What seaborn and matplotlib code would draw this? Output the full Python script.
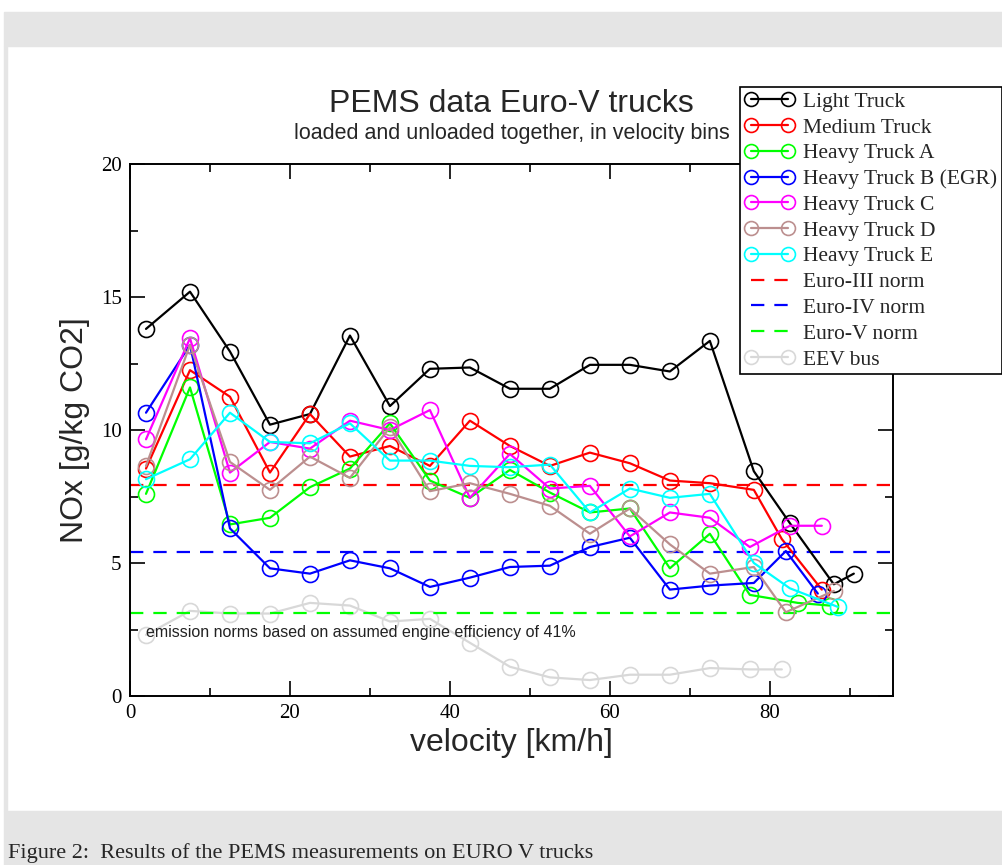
import numpy as np
import pandas as pd
import matplotlib
matplotlib.use('Agg')
import matplotlib.pyplot as plt
import seaborn as sns
from matplotlib.patches import Rectangle
from matplotlib.lines import Line2D
from matplotlib.ticker import MultipleLocator

# velocity bin centres [km/h]
bins = [2, 7.5, 12.5, 17.5, 22.5, 27.5, 32.5, 37.5, 42.5, 47.5, 52.5,
        57.5, 62.5, 67.5, 72.5, 78, 82.5, 87.5]

light_x = bins[:17] + [88, 90.5]
light = [13.8, 15.2, 12.95, 10.2, 10.6, 13.55, 10.9, 12.3, 12.35, 11.55, 11.55,
         12.45, 12.45, 12.2, 13.35, 8.45, 6.5, 4.2, 4.6]

medium_x = bins[:16] + [81.5, 86.5]
medium = [8.55, 12.25, 11.25, 8.4, 10.6, 9.0, 9.4, 8.65, 10.35, 9.4, 8.65,
          9.15, 8.75, 8.1, 8.0, 7.75, 5.9, 4.0]

heavy_a_x = bins[:15] + [77.5, 83.5, 87.5]
heavy_a = [7.6, 11.6, 6.45, 6.7, 7.85, 8.55, 10.25, 8.1, 7.45, 8.5, 7.65,
           6.9, 7.05, 4.8, 6.1, 3.8, 3.5, 3.4]

heavy_b_x = bins[:15] + [78, 82, 86]
heavy_b = [10.65, 13.2, 6.3, 4.8, 4.6, 5.1, 4.8, 4.1, 4.45, 4.85, 4.9,
           5.6, 5.95, 4.0, 4.15, 4.25, 5.45, 3.85]

heavy_c_x = bins[:15] + [77.5, 82.5, 86.5]
heavy_c = [9.65, 13.45, 8.4, 9.55, 9.3, 10.35, 10.0, 10.75, 7.45, 9.1, 7.8,
           7.9, 6.0, 6.9, 6.7, 5.6, 6.4, 6.4]

heavy_d_x = bins[:16] + [82, 88]
heavy_d = [8.65, 13.2, 8.8, 7.75, 9.0, 8.2, 10.1, 7.7, 8.0, 7.6, 7.15,
           6.1, 7.05, 5.7, 4.6, 4.85, 3.15, 3.95]

heavy_e_x = bins[:16] + [82.5, 88.5]
heavy_e = [8.15, 8.9, 10.65, 9.55, 9.5, 10.25, 8.85, 8.85, 8.65, 8.6, 8.7,
           6.9, 7.8, 7.45, 7.6, 5.0, 4.05, 3.35]

eev_x = bins[:15] + [77.5, 81.5]
eev = [2.3, 3.2, 3.1, 3.1, 3.5, 3.4, 2.8, 2.9, 2.0, 1.1, 0.7, 0.6, 0.8,
       0.8, 1.05, 1.0, 1.0]

norm_names = ['Euro-III norm', 'Euro-IV norm', 'Euro-V norm']
norm_values = [7.93, 5.41, 3.12]
norm_colors = ['#ff0000', '#0000ff', '#00ff00']

trucks = [
    ('Light Truck', light_x, light, '#000000'),
    ('Medium Truck', medium_x, medium, '#ff0000'),
    ('Heavy Truck A', heavy_a_x, heavy_a, '#00ff00'),
    ('Heavy Truck B (EGR)', heavy_b_x, heavy_b, '#0000ff'),
    ('Heavy Truck C', heavy_c_x, heavy_c, '#ff00ff'),
    ('Heavy Truck D', heavy_d_x, heavy_d, '#bc8f8f'),
    ('Heavy Truck E', heavy_e_x, heavy_e, '#00ffff'),
]
eev_color = '#d8d8d8'

sns.set_style('ticks')
plt.rcParams['font.family'] = ['Liberation Serif', 'DejaVu Serif']
plt.rcParams['axes.linewidth'] = 1.4

fig = plt.figure(figsize=(10.03, 8.65), dpi=100)
W, H = 1003.0, 865.0

# page-like grey bands around the figure
gray = '#e5e5e5'
fig.patches.append(Rectangle((4 / W, 1 - 46 / H), 1, 34 / H, transform=fig.transFigure,
                             color=gray, zorder=0))
fig.patches.append(Rectangle((4 / W, 0), 1, 54 / H, transform=fig.transFigure,
                             color=gray, zorder=0))
fig.patches.append(Rectangle((4 / W, 54 / H), 3 / W, (811 - 46) / H, transform=fig.transFigure,
                             color=gray, zorder=0))
fig.text(8 / W, 2 / H, 'Figure 2:  Results of the PEMS measurements on EURO V trucks',
         fontsize=16, va='bottom', ha='left', family=['Liberation Serif'])

ax = fig.add_axes([130 / W, 1 - 696 / H, 763 / W, 532 / H])

mk = dict(marker='o', markersize=11.5, markerfacecolor='none', markeredgewidth=1.2,
          linewidth=1.6)

handles = []
for name, xs, ys, col in trucks:
    df = pd.DataFrame({'velocity': xs, 'nox': ys})
    sns.lineplot(data=df, x='velocity', y='nox', ax=ax, color=col, sort=False,
                 markeredgecolor=col, errorbar=None, **mk)
    handles.append(Line2D([], [], color=col, marker='o', markersize=10,
                          markerfacecolor='none', markeredgecolor=col,
                          markeredgewidth=1.2, linewidth=1.6, label=name))

for name, val, col in zip(norm_names, norm_values, norm_colors):
    ax.axhline(val, color=col, linewidth=1.6, dashes=(6, 4.5), zorder=1)
    handles.append(Line2D([], [], color=col, linewidth=1.6, dashes=(6, 4.5), label=name))

df = pd.DataFrame({'velocity': eev_x, 'nox': eev})
sns.lineplot(data=df, x='velocity', y='nox', ax=ax, color=eev_color, sort=False,
             markeredgecolor=eev_color, errorbar=None, zorder=0.5, **mk)
handles.append(Line2D([], [], color=eev_color, marker='o', markersize=10,
                      markerfacecolor='none', markeredgecolor=eev_color,
                      markeredgewidth=1.2, linewidth=1.6, label='EEV bus'))

ax.set_xlim(0, 95.4)
ax.set_ylim(0, 20)
ax.xaxis.set_major_locator(MultipleLocator(20))
ax.xaxis.set_minor_locator(MultipleLocator(10))
ax.yaxis.set_major_locator(MultipleLocator(5))
ax.yaxis.set_minor_locator(MultipleLocator(2.5))
ax.tick_params(which='both', direction='in', top=True, right=True, width=1.2,
               labelsize=15, colors='black')
ax.tick_params(which='major', length=11, pad=6)
ax.tick_params(which='minor', length=6)
for s in ax.spines.values():
    s.set_visible(True)
    s.set_color('black')

sans = ['Liberation Sans', 'DejaVu Sans']
ax.set_xlabel('velocity [km/h]', fontsize=23, family=sans, labelpad=3)
ax.set_ylabel('NOx [g/kg CO2]', fontsize=23, family=sans, labelpad=8)

fig.text(511.5 / W, 1 - 104 / H, 'PEMS data Euro-V trucks', fontsize=23, family=sans,
         ha='center', va='center')
fig.text(511.5 / W, 1 - 134 / H, 'loaded and unloaded together, in velocity bins',
         fontsize=15.5, family=sans, ha='center', va='center')

ax.text(2, 2.37, 'emission norms based on assumed engine efficiency of 41%',
        fontsize=11.5, family=sans, ha='left', va='center', color='#222222')

leg = fig.legend(handles=handles, loc='upper left', bbox_to_anchor=(740 / W, 1 - 87 / H),
                 fontsize=15.5, frameon=True, fancybox=False, framealpha=1,
                 edgecolor='black', numpoints=2, handlelength=2.3,
                 handletextpad=0.4, labelspacing=0.265, borderpad=0.22,
                 borderaxespad=0)
leg.get_frame().set_linewidth(1.2)

fig.savefig('out.png', dpi=100, facecolor='white')
